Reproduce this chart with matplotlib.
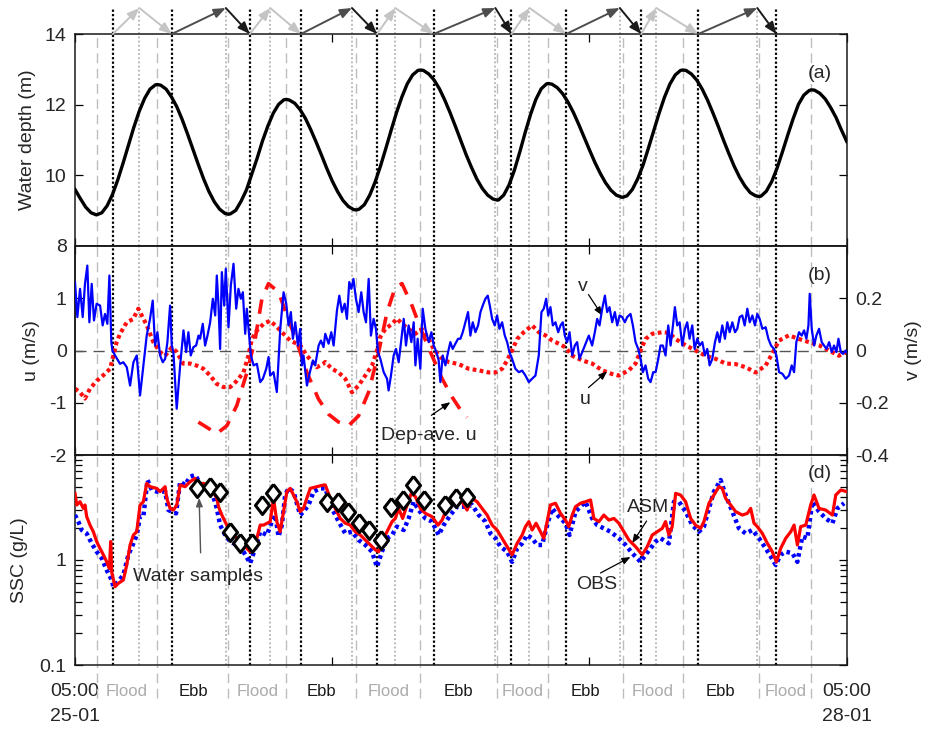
import numpy as np
import matplotlib
matplotlib.use("Agg")
import matplotlib.pyplot as plt
from matplotlib.transforms import blended_transform_factory
from matplotlib.ticker import LogLocator, NullFormatter, FixedLocator, FixedFormatter

plt.rcParams['font.family'] = ['Liberation Sans', 'DejaVu Sans']
plt.rcParams['axes.unicode_minus'] = False

# ---------------- data (time in hours since 25-01 05:00) ----------------
depth_pts = [(0, 9.60), (0.5, 9.34), (1, 9.10), (1.5, 8.94), (2, 8.88), (2.5, 8.94), (3, 9.14), (3.5, 9.46),
             (4, 9.88), (4.5, 10.36), (5, 10.87), (5.5, 11.37), (6, 11.82), (6.5, 12.18), (7, 12.44),
             (7.5, 12.56), (7.69, 12.57), (8, 12.55), (8.5, 12.44), (9, 12.22), (9.5, 11.94), (10, 11.58),
             (10.5, 11.17), (11, 10.74), (11.5, 10.31), (12, 9.90), (12.5, 9.54), (13, 9.25), (13.5, 9.04),
             (14, 8.92), (14.32, 8.90), (14.5, 8.91), (15, 9.01), (15.5, 9.27), (16, 9.59), (16.5, 10.04),
             (17, 10.49), (17.5, 10.98), (18, 11.40), (18.5, 11.76), (19, 12.01), (19.5, 12.14),
             (19.71, 12.15), (20, 12.13), (20.5, 12.04), (21, 11.86), (21.5, 11.61), (22, 11.29),
             (22.5, 10.94), (23, 10.57), (23.5, 10.19), (24, 9.84), (24.5, 9.54), (25, 9.29), (25.5, 9.12),
             (26, 9.03), (26.24, 9.02), (26.5, 9.04), (27, 9.17), (27.5, 9.44), (28, 9.81), (28.5, 10.26),
             (29, 10.76), (29.5, 11.28), (30, 11.78), (30.5, 12.22), (31, 12.59), (31.5, 12.84), (32, 12.97),
             (32.22, 12.98), (32.5, 12.97), (33, 12.87), (33.5, 12.70), (34, 12.45), (34.5, 12.13),
             (35, 11.77), (35.5, 11.38), (36, 10.98), (36.5, 10.58), (37, 10.22), (37.5, 9.89), (38, 9.63),
             (38.5, 9.44), (39, 9.33), (39.38, 9.30), (39.5, 9.30), (40, 9.44), (40.5, 9.73), (41, 10.15),
             (41.5, 10.66), (42, 11.21), (42.5, 11.72), (43, 12.15), (43.5, 12.45), (44, 12.59),
             (44.15, 12.60), (44.5, 12.58), (45, 12.48), (45.5, 12.31), (46, 12.07), (46.5, 11.78),
             (47, 11.44), (47.5, 11.08), (48, 10.72), (48.5, 10.37), (49, 10.06), (49.5, 9.79), (50, 9.58),
             (50.5, 9.44), (51, 9.38), (51.11, 9.38), (51.5, 9.42), (52, 9.60), (52.5, 9.90), (53, 10.29),
             (53.5, 10.77), (54, 11.27), (54.5, 11.76), (55, 12.21), (55.5, 12.58), (56, 12.84),
             (56.5, 12.97), (56.72, 12.98), (57, 12.97), (57.5, 12.87), (58, 12.70), (58.5, 12.45),
             (59, 12.14), (59.5, 11.78), (60, 11.40), (60.5, 11.00), (61, 10.62), (61.5, 10.26), (62, 9.95),
             (62.5, 9.70), (63, 9.51), (63.5, 9.42), (63.81, 9.40), (64, 9.41), (64.5, 9.55), (65, 9.82),
             (65.5, 10.20), (66, 10.66), (66.5, 11.14), (67, 11.60), (67.5, 12.01), (68, 12.27),
             (68.5, 12.40), (68.71, 12.42), (69, 12.41), (69.5, 12.32), (70, 12.16), (70.5, 11.92),
             (71, 11.64), (71.5, 11.29), (72, 10.96)]

u_pts = [(0.00, -0.73), (0.47, -0.80), (0.93, -0.92), (1.40, -0.73), (2.03, -0.58), (2.61, -0.48),
         (3.27, -0.35), (3.58, -0.10), (3.89, 0.16), (4.20, 0.32), (4.83, 0.54), (5.42, 0.60), (5.91, 0.80),
         (6.23, 0.67), (6.70, 0.48), (7.31, 0.16), (7.94, -0.03), (8.41, -0.10), (9.03, 0.06), (9.50, -0.03),
         (10.09, -0.25), (10.74, -0.25), (11.37, -0.29), (11.98, -0.35), (12.61, -0.48), (13.23, -0.64),
         (13.85, -0.70), (14.48, -0.70), (15.10, -0.58), (15.72, -0.42), (16.18, -0.10), (16.50, 0.22),
         (16.97, 0.38), (17.59, 0.51), (18.21, 0.57), (18.84, 0.45), (19.45, 0.32), (20.08, 0.19),
         (21.01, 0.10), (21.64, -0.10), (22.57, -0.32), (23.19, -0.25), (23.35, -0.22), (23.97, -0.35),
         (24.59, -0.42), (25.22, -0.54), (25.84, -0.80), (26.46, -0.67), (27.08, -0.48), (27.71, -0.29),
         (28.18, 0.00), (28.48, 0.26), (28.95, 0.41), (29.58, 0.51), (30.04, 0.61), (30.51, 0.51),
         (31.13, 0.41), (31.75, 0.32), (32.38, 0.41), (32.99, 0.22), (33.46, 0.03), (34.09, -0.13),
         (34.86, -0.22), (35.80, -0.26), (36.73, -0.35), (37.66, -0.38), (38.60, -0.42), (39.22, -0.42),
         (39.85, -0.35), (40.32, -0.19), (40.78, 0.00), (41.25, 0.22), (41.87, 0.35), (42.65, 0.48),
         (43.27, 0.35), (43.89, 0.29), (44.52, 0.19), (45.14, 0.13), (45.76, 0.06), (46.39, -0.10),
         (47.32, -0.19), (48.25, -0.25), (49.19, -0.38), (50.12, -0.45), (50.74, -0.48), (51.67, -0.38),
         (52.30, -0.25), (52.77, 0.00), (53.23, 0.22), (53.86, 0.32), (54.79, 0.35), (55.41, 0.34),
         (56.03, 0.22), (56.97, 0.10), (57.90, 0.00), (58.83, -0.10), (59.77, -0.16), (60.70, -0.25),
         (61.63, -0.26), (62.57, -0.32), (63.50, -0.42), (64.43, -0.29), (65.21, 0.00), (65.68, 0.19),
         (66.61, 0.29), (67.55, 0.22), (68.48, 0.16), (69.42, 0.10), (70.35, 0.00), (71.28, -0.10),
         (72.00, -0.03)]

dep_ave_time = [11.51, 13.23, 14.17, 15.10, 16.04, 16.81, 17.44, 18.05, 18.99, 19.77, 20.70, 21.64, 22.72,
                23.66, 24.59, 25.52, 26.46, 27.39, 28.33, 29.11, 29.88, 30.51, 31.44, 32.38, 33.31, 34.25,
                35.18, 36.11, 36.58]
dep_ave_u = [-1.37, -1.59, -1.44, -1.05, -0.42, 0.22, 0.99, 1.28, 1.12, 0.67, 0.16, -0.42, -0.93,
             -1.22, -1.37, -1.44, -1.25, -0.80, -0.03, 0.73, 1.21, 1.28, 0.86, 0.35, -0.10, -0.54,
             -0.89, -1.18, -1.28]

v_pts = [(0.00, 0.262), (0.22, 0.128), (0.47, 0.236), (0.72, 0.128), (0.93, 0.255), (1.15, 0.325),
         (1.34, 0.108), (1.56, 0.255), (1.77, 0.115), (2.02, 0.179), (2.34, 0.172), (2.58, 0.096),
         (2.80, 0.140), (3.02, 0.102), (3.21, 0.287), (3.39, 0.032), (3.49, 0.000), (3.74, -0.019),
         (4.20, -0.051), (4.51, -0.045), (4.83, -0.064), (5.14, -0.134), (5.45, -0.045), (5.76, -0.019),
         (6.07, -0.172), (6.38, -0.057), (6.69, 0.057), (7.00, 0.121), (7.25, 0.191), (7.47, 0.019),
         (7.69, 0.070), (7.94, -0.019), (8.19, -0.045), (8.41, -0.032), (8.62, 0.032), (8.87, 0.172),
         (9.03, 0.019), (9.18, -0.006), (9.49, -0.223), (9.81, -0.057), (10.12, 0.077), (10.37, -0.006),
         (10.58, 0.070), (10.80, -0.019), (11.05, 0.013), (11.30, 0.019), (11.52, 0.057), (11.67, 0.045),
         (11.92, 0.102), (12.14, 0.019), (12.36, 0.057), (12.61, 0.108), (12.86, 0.198), (13.08, 0.134),
         (13.23, 0.287), (13.39, 0.172), (13.54, 0.006), (13.70, 0.300), (13.92, 0.172), (14.07, 0.313),
         (14.32, 0.089), (14.54, 0.249), (14.79, 0.332), (15.04, 0.160), (15.25, 0.236), (15.47, 0.198),
         (15.66, 0.223), (15.88, 0.064), (16.03, 0.160), (16.28, 0.045), (16.41, -0.019), (16.66, -0.057),
         (16.97, -0.051), (17.28, -0.121), (17.53, -0.108), (17.84, -0.070), (18.06, -0.025),
         (18.21, -0.096), (18.52, -0.083), (18.83, -0.159), (19.15, 0.083), (19.46, 0.223), (19.71, 0.179),
         (19.92, 0.096), (20.14, 0.147), (20.33, 0.045), (20.55, 0.108), (20.80, 0.019), (21.01, 0.083),
         (21.17, -0.057), (21.32, -0.019), (21.64, -0.134), (21.95, -0.077), (22.20, -0.038),
         (22.41, -0.057), (22.73, 0.019), (22.94, 0.038), (23.19, 0.013),
         (23.35, 0.064), (23.66, 0.026), (23.91, 0.070), (24.13, 0.019), (24.44, 0.153), (24.66, 0.210),
         (24.91, 0.147), (25.16, 0.179), (25.37, 0.121), (25.59, 0.262), (25.78, 0.236), (25.98, 0.274),
         (26.21, 0.198), (26.46, 0.147), (26.71, 0.223), (26.93, 0.147), (27.15, 0.108), (27.40, 0.274),
         (27.61, 0.057), (27.86, 0.121), (28.08, 0.083), (28.27, -0.006), (28.49, -0.032), (28.80, -0.083),
         (29.11, -0.108), (29.26, -0.153), (29.48, -0.096), (29.73, -0.019), (29.95, 0.006),
         (30.20, -0.045), (30.45, 0.045), (30.67, 0.121), (30.88, 0.019), (31.13, 0.096), (31.38, 0.032),
         (31.60, 0.108), (31.76, -0.057), (31.97, 0.045), (32.22, -0.070), (32.44, 0.160), (32.69, 0.083),
         (33.00, 0.032), (33.25, 0.070), (33.47, 0.019), (33.72, -0.006), (33.93, -0.038),
         (34.09, -0.121), (34.31, -0.019), (34.56, -0.057), (34.81, -0.006), (35.02, 0.032),
         (35.24, 0.006), (35.49, 0.026), (35.74, 0.045), (35.96, 0.045), (36.18, 0.070), (36.42, 0.108),
         (36.67, 0.147), (36.89, 0.057), (37.11, 0.108), (37.36, 0.070), (37.61, 0.096), (37.83, 0.147),
         (38.04, 0.172), (38.29, 0.198), (38.51, 0.210), (38.70, 0.172), (38.92, 0.121), (39.16, 0.096),
         (39.38, 0.134), (39.60, 0.083), (39.85, 0.108), (40.10, 0.057), (40.32, 0.032), (40.53, -0.006),
         (40.78, -0.032), (41.09, -0.070), (41.41, -0.083), (41.72, -0.077), (42.03, -0.096),
         (42.34, -0.121), (42.65, -0.108), (42.96, -0.096), (43.27, -0.019), (43.52, 0.147),
         (43.74, 0.160), (43.96, 0.198), (44.15, 0.134), (44.36, 0.166), (44.58, 0.096), (44.83, 0.108),
         (45.08, 0.070), (45.30, 0.096), (45.51, 0.108), (45.70, 0.057), (45.92, 0.032), (46.14, 0.070),
         (46.39, -0.019), (46.63, 0.019), (46.85, 0.032), (47.07, -0.032), (47.32, -0.006),
         (47.57, 0.019),
         (47.94, 0.057), (48.25, 0.019), (48.50, 0.070), (48.72, 0.121), (48.94, 0.096), (49.19, 0.160),
         (49.44, 0.210), (49.65, 0.147), (49.87, 0.166), (50.12, 0.108), (50.37, 0.147), (50.59, 0.096),
         (50.81, 0.134), (51.05, 0.128), (51.30, 0.108), (51.52, 0.128), (51.83, 0.140), (52.05, 0.096),
         (52.30, 0.032), (52.55, 0.006), (52.77, -0.032), (52.98, -0.083), (53.23, -0.057),
         (53.48, -0.108), (53.70, -0.121), (53.95, -0.083), (54.17, -0.083), (54.42, -0.032),
         (54.63, 0.019), (54.85, 0.019), (55.10, -0.019), (55.35, 0.096), (55.57, 0.019), (55.79, 0.096),
         (55.97, 0.166), (56.19, 0.096), (56.41, 0.108), (56.66, 0.019), (56.91, 0.083), (57.12, 0.108),
         (57.34, 0.045), (57.59, 0.096), (57.81, 0.006), (58.06, 0.045), (58.28, 0.019), (58.53, 0.032),
         (58.77, -0.019), (58.99, 0.006), (59.21, -0.057), (59.46, -0.032), (59.71, 0.032),
         (59.93, 0.070), (60.14, 0.032), (60.39, 0.096), (60.64, 0.045), (60.86, 0.108), (61.08, 0.070),
         (61.33, 0.108), (61.58, 0.070), (61.79, 0.083), (62.01, 0.128), (62.26, 0.134), (62.48, 0.096),
         (62.73, 0.160), (62.95, 0.108), (63.20, 0.134), (63.44, 0.096), (63.66, 0.140), (63.88, 0.121),
         (64.13, 0.083), (64.44, 0.089), (64.69, 0.045), (64.94, 0.019), (65.22, 0.006), (65.44, -0.019),
         (65.69, -0.083), (66.00, -0.089), (66.31, -0.108), (66.62, -0.096), (66.87, -0.057),
         (67.09, -0.083), (67.30, 0.032), (67.55, 0.070), (67.80, 0.057), (68.02, 0.077), (68.24, 0.045),
         (68.43, 0.096), (68.55, 0.217), (68.74, 0.083), (68.96, 0.019), (69.17, 0.057), (69.42, 0.083),
         (69.67, 0.032), (69.89, 0.019), (70.11, 0.006), (70.36, 0.032), (70.60, -0.006), (70.82, 0.019),
         (71.04, -0.006), (71.23, 0.045), (71.45, -0.006), (71.66, -0.013), (71.91, 0.000),
         (72.00, -0.006)]

asm_pts = [(0.00, 4.31), (0.16, 3.34), (0.47, 3.59), (0.78, 3.10), (0.93, 3.34), (1.09, 2.59), (1.40, 2.15),
           (1.71, 1.86), (2.02, 1.50), (2.33, 1.29), (2.65, 1.12), (2.96, 0.96), (3.21, 0.83), (3.33, 1.50),
           (3.42, 0.77), (3.74, 0.557), (4.05, 0.60), (4.51, 0.645), (4.83, 0.90), (5.14, 1.39),
           (5.45, 1.73), (5.76, 1.86), (6.07, 3.34), (6.38, 3.59), (6.69, 5.37), (7.00, 4.99), (7.63, 4.81),
           (7.94, 4.48), (8.41, 4.99), (8.56, 3.87), (8.87, 3.10), (9.18, 2.99), (9.50, 3.34), (9.81, 5.18),
           (10.27, 4.99), (10.74, 5.57), (11.21, 5.99), (11.36, 5.18), (11.99, 5.37), (12.61, 4.99),
           (13.23, 3.87), (13.39, 3.22), (13.70, 2.68), (14.16, 2.15), (14.79, 1.73), (15.41, 1.50),
           (16.03, 1.29), (16.34, 1.20), (16.97, 1.61), (17.28, 2.15), (17.59, 2.15), (18.21, 2.32),
           (18.52, 3.87), (18.83, 2.32), (19.14, 1.86), (19.46, 2.89), (19.77, 4.48), (20.08, 4.81),
           (20.70, 3.59), (21.01, 2.89), (21.32, 3.10), (21.63, 3.87), (21.95, 4.81), (22.57, 4.99),
           (23.19, 5.18), (23.35, 5.18), (23.82, 3.87), (24.28, 3.10), (24.75, 2.49), (25.22, 2.24),
           (25.68, 2.15), (26.15, 1.86), (26.62, 1.73), (27.09, 1.55), (27.55, 1.39), (28.02, 1.25),
           (28.33, 1.20), (28.80, 1.61), (29.26, 2.00), (29.58, 2.32), (29.89, 2.49), (30.20, 3.10),
           (30.57, 2.49), (30.98, 3.34), (31.38, 4.31), (31.76, 4.01), (32.22, 3.10), (32.69, 2.78),
           (33.31, 2.59), (33.87, 2.15), (34.25, 2.40), (34.71, 3.10), (35.18, 3.34), (35.65, 3.59),
           (36.11, 3.59), (36.58, 2.99), (37.05, 3.87), (37.51, 3.59), (37.98, 3.10), (38.45, 2.68),
           (38.92, 2.15), (39.38, 1.93), (39.85, 1.61), (40.32, 1.34), (40.78, 1.12), (41.25, 1.44),
           (41.72, 1.73), (42.03, 2.08), (42.34, 2.32), (42.65, 1.93), (43.02, 2.24), (43.43, 1.86),
           (43.74, 1.61), (44.05, 2.32), (44.36, 3.34), (44.83, 3.47), (45.30, 2.78), (45.76, 2.40),
           (46.07, 2.08), (46.39, 2.68), (46.70, 3.22), (47.16, 3.47), (47.63, 3.59), (48.10, 3.73),
           (48.41, 2.49), (48.88, 2.32), (49.34, 2.68), (49.81, 2.40), (50.28, 2.49), (50.74, 2.24),
           (51.21, 1.86), (51.68, 1.55), (52.30, 1.34), (52.92, 1.12), (53.39, 1.34), (53.86, 1.73),
           (54.32, 1.86), (54.79, 2.00), (55.10, 2.32), (55.41, 1.73), (55.72, 2.08), (56.04, 4.31),
           (56.50, 4.16), (56.97, 3.59), (57.44, 2.49), (57.90, 2.15), (58.37, 2.00), (58.68, 2.32),
           (59.15, 3.47), (59.61, 4.16), (60.08, 4.99), (60.39, 4.81), (60.70, 3.87), (61.17, 3.34),
           (61.64, 2.89), (62.26, 2.68), (62.73, 2.78), (63.04, 3.10), (63.35, 2.24), (63.66, 2.08),
           (64.13, 1.79), (64.60, 1.44), (65.06, 1.20), (65.44, 0.96), (65.84, 1.29), (66.31, 1.61),
           (66.78, 1.86), (67.09, 2.15), (67.40, 1.39), (67.71, 2.08), (68.18, 2.15), (68.64, 3.34),
           (68.95, 4.16), (69.42, 3.10), (70.04, 2.99), (70.67, 2.68), (70.98, 4.16), (71.45, 4.64),
           (72.00, 4.48)]

obs_pts = [(0.00, 2.68), (0.31, 2.32), (0.62, 1.93), (1.09, 1.79), (1.56, 1.44), (2.02, 1.20), (2.49, 1.04),
           (2.96, 0.80), (3.42, 0.645), (3.58, 0.557), (3.89, 0.60), (4.51, 0.72), (4.98, 1.12),
           (5.45, 1.44), (5.76, 1.73), (6.07, 2.59), (6.38, 2.59), (6.76, 5.78), (7.16, 4.64), (7.63, 4.48),
           (8.09, 4.48), (8.41, 4.48), (8.72, 2.99), (9.03, 2.89), (9.43, 2.78), (9.81, 5.57), (10.27, 5.18),
           (10.74, 6.22), (11.21, 6.45), (11.67, 5.37), (12.30, 4.99), (12.76, 4.48), (13.23, 3.10),
           (13.54, 2.15), (14.01, 1.73), (14.48, 1.50), (15.10, 1.39), (15.72, 1.20), (16.34, 0.93),
           (16.81, 1.29), (17.28, 1.86), (17.90, 1.73), (18.37, 2.32), (18.68, 2.68), (18.99, 1.67),
           (19.30, 2.15), (19.61, 4.16), (19.92, 4.81), (20.39, 4.48), (21.01, 2.68), (21.32, 2.89),
           (21.79, 3.34), (22.26, 4.48), (22.88, 4.81), (23.35, 4.81), (23.97, 3.10), (24.60, 2.32),
           (25.22, 1.79), (25.84, 1.86), (26.46, 1.55), (27.09, 1.39), (27.71, 1.20), (28.17, 0.86),
           (28.64, 1.20), (29.11, 1.61), (29.58, 1.73), (30.04, 2.08), (30.67, 1.93), (31.13, 2.49),
           (31.60, 3.59), (32.07, 2.99), (32.69, 2.49), (33.31, 2.32), (33.93, 1.73), (34.40, 2.15),
           (35.02, 2.68), (35.65, 3.22), (36.42, 3.22), (37.05, 3.34), (37.67, 2.68), (38.29, 2.32),
           (38.76, 1.79), (39.23, 1.61), (39.69, 1.34), (40.32, 1.20), (40.78, 0.96), (41.25, 1.29),
           (41.72, 1.44), (42.18, 1.73), (42.65, 1.61), (43.12, 1.39), (43.58, 1.39), (44.05, 2.15),
           (44.52, 3.10), (45.14, 2.59), (45.76, 2.24), (46.14, 1.73), (46.70, 2.89), (47.32, 3.34),
           (47.63, 3.59), (48.25, 2.49), (48.72, 2.15), (49.34, 2.00), (49.96, 1.86), (50.74, 1.61),
           (51.37, 1.39), (51.99, 1.16), (52.77, 0.96), (53.23, 1.12), (53.70, 1.29), (54.17, 1.50),
           (54.63, 1.61), (55.41, 1.44), (55.88, 3.59), (56.35, 3.59), (56.97, 2.89), (57.59, 2.15),
           (58.21, 1.86), (58.68, 2.08), (59.15, 3.10), (59.61, 4.48), (60.24, 5.78), (60.70, 4.16),
           (61.33, 2.89), (61.95, 2.00), (62.57, 1.79), (63.20, 1.93), (63.82, 1.61), (64.44, 1.29),
           (64.91, 1.08), (65.37, 0.90), (65.84, 1.12), (66.31, 1.20), (66.93, 1.16), (67.40, 0.96),
           (67.86, 1.67), (68.33, 1.61), (68.80, 3.59), (69.42, 2.89), (70.04, 2.49), (70.67, 2.24),
           (71.13, 3.10), (71.76, 3.47)]

sample_time = [11.37, 12.61, 13.54, 14.48, 15.41, 16.50, 17.44, 18.52,
               23.51, 24.53, 25.47, 26.46, 27.46, 28.58, 29.51, 30.57, 31.50, 32.59, 34.55, 35.55, 36.58]
sample_ssc = [4.81, 4.99, 4.48, 1.86, 1.44, 1.44, 3.34, 4.31,
              3.59, 3.59, 2.89, 2.24, 1.93, 1.55, 3.22, 3.73, 5.18, 3.73, 3.34, 3.87, 4.01]

hw_lw_times = [2.03, 7.69, 14.32, 19.71, 26.24, 32.22, 39.38, 44.15, 51.11, 56.72, 63.81, 68.71]
slack_times = [3.53, 9.03, 16.31, 21.08, 28.18, 33.46, 40.72, 45.83, 52.83, 58.15, 65.44]
peak_times = [6.00, 14.07, 18.21, 25.84, 29.88, 39.22, 42.40, 50.83, 54.23, 63.66]
phase_names = ['Flood', 'Ebb'] * 5 + ['Flood']

x_ticks = [0, 24, 48, 72]
x_ticklabels = ['05:00\n25-01', '', '', '05:00\n28-01']

# ---------------- figure ----------------
TC = '#262626'
fig = plt.figure(figsize=(9.26, 7.29), dpi=100)
L, W = 75 / 926, 771.7 / 926
ax_a = fig.add_axes([L, 1 - 246 / 729, W, 212 / 729])
ax_b = fig.add_axes([L, 1 - 455 / 729, W, 209 / 729])
ax_d = fig.add_axes([L, 1 - 665 / 729, W, 210 / 729])
ax_v = ax_b.twinx()
ax_d.set_yscale('log')

for ax in (ax_a, ax_b, ax_d, ax_v):
    for s in ax.spines.values():
        s.set_linewidth(1.1)
        s.set_color('#1a1a1a')

for ax in (ax_a, ax_b, ax_d):
    ax.set_xlim(0, 72)
    ax.set_xticks(x_ticks)
    ax.tick_params(axis='x', which='both', direction='in', top=True, bottom=True,
                   length=6, width=0.9, labelsize=14, labelcolor=TC, pad=13)
    ax.tick_params(axis='y', which='both', direction='in', length=6, width=0.9,
                   labelsize=14, labelcolor=TC, pad=6)
    for t in hw_lw_times:
        ax.axvline(t, color='#bdbdbd', lw=1.0, ls=(0, (7, 4)), zorder=1)
    for t in peak_times:
        ax.axvline(t, color='#b3b3b3', lw=1.3, ls=(0, (1, 1.3)), zorder=1)
    for t in slack_times:
        ax.axvline(t, color='black', lw=1.6, ls=(0, (1, 1)), zorder=1)

ax_a.set_xticklabels([])
ax_b.set_xticklabels([])
ax_d.set_xticklabels(x_ticklabels, linespacing=1.6)

# --- panel a
ax_a.plot([p[0] for p in depth_pts], [p[1] for p in depth_pts], color='black', lw=2.4, zorder=3,
          solid_joinstyle='round')
ax_a.set_ylim(8, 14)
ax_a.set_yticks([8, 10, 12, 14])
ax_a.tick_params(axis='y', left=True, right=True)
ax_a.text(0.9654, 0.816, '(a)', transform=ax_a.transAxes, ha='center', va='center', fontsize=14, color=TC)

tr_a = blended_transform_factory(ax_a.transData, ax_a.transAxes)
top_y = 1.1226
for t in slack_times:
    ax_a.plot([t, t], [1.0, top_y], transform=tr_a, clip_on=False, color='black', lw=1.6, ls=(0, (1, 1)))
for t in peak_times:
    ax_a.plot([t, t], [1.0, top_y], transform=tr_a, clip_on=False, color='#b3b3b3', lw=1.3, ls=(0, (1, 1.3)))
for i in range(len(peak_times)):
    start, apex, end = slack_times[i], peak_times[i], slack_times[i + 1]
    if i % 2 == 0:
        c_up, c_down = '#c4c4c4', '#c4c4c4'
    else:
        c_up, c_down = '#4d4d4d', '#1a1a1a'
    for (x0, y0, x1, y1, c) in ((start, 1.0, apex, top_y, c_up), (apex, top_y, end, 1.0, c_down)):
        ax_a.annotate('', xy=(x1, y1), xycoords=tr_a, xytext=(x0, y0), textcoords=tr_a,
                      arrowprops=dict(arrowstyle='-|>,head_length=0.7,head_width=0.28', color=c, lw=1.4,
                                      shrinkA=0, shrinkB=0), annotation_clip=False)

# --- panel b
ax_b.axhline(0, color='#555555', lw=1.0, ls=(0, (8, 5)), zorder=2)
ax_b.plot(dep_ave_time, dep_ave_u, color='#ff1010', lw=2.6, ls=(0, (4, 3)), zorder=3)
ax_b.plot([p[0] for p in u_pts], [p[1] for p in u_pts], color='#ff1010', lw=3.0, ls=(0, (0.9, 0.8)), zorder=3)
ax_v.plot([p[0] for p in v_pts], [p[1] for p in v_pts], color='#0000ff', lw=1.6, zorder=3)
ax_b.set_ylim(-2, 2)
ax_b.set_yticks([-2, -1, 0, 1])
ax_b.set_yticklabels(['-2', '-1', '0', '1'])
ax_v.set_ylim(-0.4, 0.4)
ax_v.set_yticks([-0.4, -0.2, 0, 0.2])
ax_v.set_yticklabels(['-0.4', '-0.2', '0', '0.2'])
ax_v.tick_params(axis='y', direction='in', length=6, width=0.9, labelsize=14, labelcolor=TC, pad=6)
ax_b.text(0.9654, 0.861, '(b)', transform=ax_b.transAxes, ha='center', va='center', fontsize=14, color=TC)
arw = dict(arrowstyle='-|>,head_length=0.5,head_width=0.2', color='black', lw=0.9, shrinkA=0, shrinkB=0)
ax_b.text(47.41, 1.23, 'v', ha='center', va='center', fontsize=14, color=TC)
ax_b.annotate('', xy=(49.19, 0.67), xytext=(47.91, 1.07), arrowprops=arw)
ax_b.text(47.63, -0.94, 'u', ha='center', va='center', fontsize=14, color=TC)
ax_b.annotate('', xy=(49.65, -0.40), xytext=(47.91, -0.71), arrowprops=arw)
ax_b.text(32.97, -1.63, 'Dep-ave. u', ha='center', va='center', fontsize=14, color=TC)
ax_b.annotate('', xy=(35.02, -0.99), xytext=(33.25, -1.24), arrowprops=arw)

# --- panel d
ax_d.plot([p[0] for p in obs_pts], [p[1] for p in obs_pts], color='#0000ff', lw=3.2, ls=(0, (0.8, 0.8)), zorder=3)
ax_d.plot([p[0] for p in asm_pts], [p[1] for p in asm_pts], color='#ff0000', lw=2.3, zorder=4)
diamond = [(0, 1), (0.78, 0), (0, -1), (-0.78, 0), (0, 1)]
ax_d.plot(sample_time, sample_ssc, ls='none', marker=diamond, ms=13, mfc='white', mec='black', mew=2.2, zorder=5)
ax_d.set_ylim(0.1, 10)
ax_d.yaxis.set_major_locator(FixedLocator([0.1, 1, 10]))
ax_d.yaxis.set_major_formatter(FixedFormatter(['0.1', '1', '']))
ax_d.yaxis.set_minor_locator(LogLocator(base=10, subs=np.arange(2, 10)))
ax_d.yaxis.set_minor_formatter(NullFormatter())
ax_d.tick_params(axis='y', which='both', left=True, right=True)
ax_d.tick_params(axis='y', which='minor', length=5)
ax_d.text(0.9654, 0.914, '(d)', transform=ax_d.transAxes, ha='center', va='center', fontsize=14, color=TC)
ax_d.text(11.49, 0.69, 'Water samples', ha='center', va='center', fontsize=14, color=TC)
ax_d.annotate('', xy=(11.58, 3.9), xytext=(11.72, 1.17),
              arrowprops=dict(arrowstyle='-|>,head_length=0.5,head_width=0.2', color='#555555', lw=1.0,
                              shrinkA=0, shrinkB=0))
ax_d.text(53.51, 3.13, 'ASM', ha='center', va='center', fontsize=14, color=TC)
ax_d.annotate('', xy=(51.99, 1.45), xytext=(53.33, 2.35), arrowprops=arw)
ax_d.text(48.66, 0.578, 'OBS', ha='center', va='center', fontsize=14, color=TC)
ax_d.annotate('', xy=(51.83, 1.068), xytext=(49.03, 0.752), arrowprops=arw)

tr_d = blended_transform_factory(ax_d.transData, ax_d.transAxes)
for t in hw_lw_times:
    ax_d.plot([t, t], [-0.157, 0], transform=tr_d, clip_on=False, color='#bdbdbd', lw=1.0, ls=(0, (7, 4)))
for i, name in enumerate(phase_names):
    mid = 0.5 * (hw_lw_times[i] + hw_lw_times[i + 1])
    ax_d.text(mid, -0.124, name, transform=tr_d, ha='center', va='center', fontsize=12,
              color='#ababab' if name == 'Flood' else '#1a1a1a')

fig.text(28 / 926, 1 - 140 / 729, 'Water depth (m)', rotation=90, ha='center', va='center', fontsize=14, color=TC)
fig.text(31 / 926, 1 - 350.5 / 729, 'u (m/s)', rotation=90, ha='center', va='center', fontsize=14, color=TC)
fig.text(19 / 926, 1 - 560 / 729, 'SSC (g/L)', rotation=90, ha='center', va='center', fontsize=14, color=TC)
fig.text(914 / 926, 1 - 350.5 / 729, 'v (m/s)', rotation=90, ha='center', va='center', fontsize=14, color=TC)

fig.savefig('out.png', dpi=100, facecolor='white')
